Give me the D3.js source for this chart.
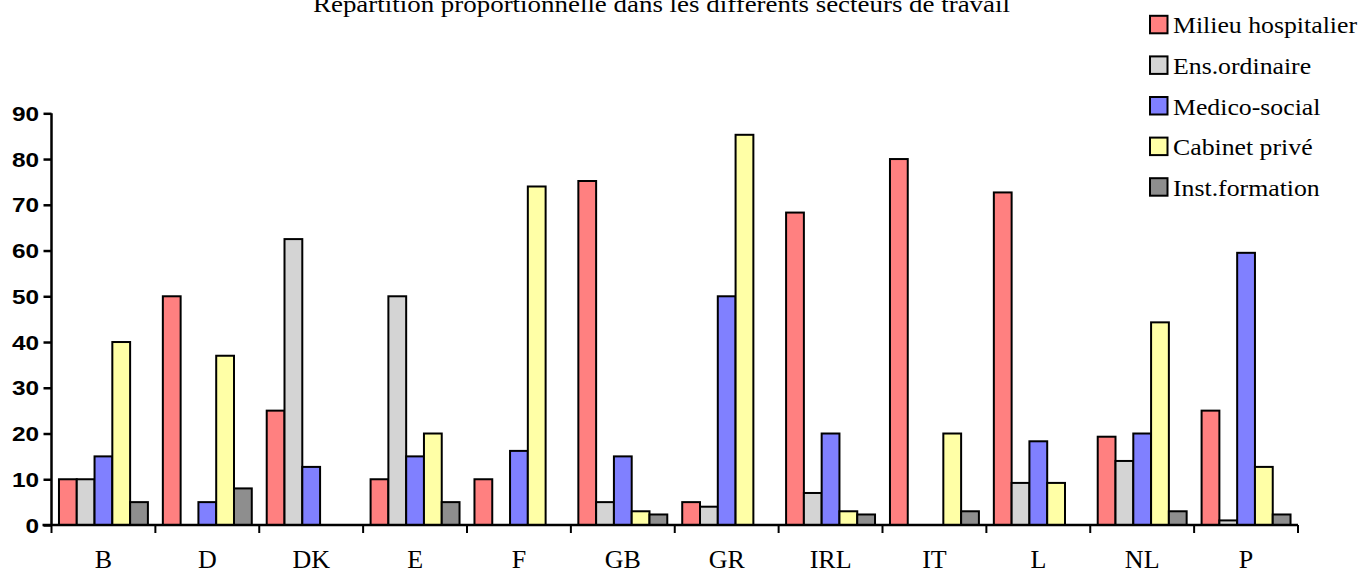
<!DOCTYPE html>
<html><head><meta charset="utf-8">
<script src="https://cdn.jsdelivr.net/npm/d3@7"></script>
<style>body{margin:0;background:#fff}svg{display:block}</style>
</head><body>
<svg id="c" width="1362" height="573"></svg>
<script>
const title = "Répartition proportionnelle dans les différents secteurs de travail";
const categories = ["B","D","DK","E","F","GB","GR","IRL","IT","L","NL","P"];
const seriesNames = ["Milieu hospitalier","Ens.ordinaire","Medico-social","Cabinet privé","Inst.formation"];
const seriesColors = ["#FF8080","#D4D4D4","#8080FF","#FFFFA6","#8E8E8E"];
const milieuHospitalier = [10,50,25,10,10,75.2,5,68.3,80,72.7,19.3,25];
const ensOrdinaire      = [10,0,62.5,50,null,5,4,7,null,9.2,14,1];
const medicoSocial      = [15,5,12.7,15,16.2,15,50,20,null,18.3,20,59.5];
const cabinetPrive      = [40,37,0,20,74,3,85.3,3,20,9.2,44.3,12.7];
const instFormation     = [5,8,null,5,null,2.3,null,2.3,3,null,3,2.3];
const series = [milieuHospitalier, ensOrdinaire, medicoSocial, cabinetPrive, instFormation];
const yTicks = [0,10,20,30,40,50,60,70,80,90];

(function(){
const svg = d3.select("#c");
const pl = 51.5, pr = 1298, pt = 113.3, pb = 525;
const serif = "'Liberation Serif', 'Times New Roman', serif";

const x = d3.scaleBand().domain(categories).range([pl, pr]).paddingInner(0).paddingOuter(0);
const xs = d3.scaleBand().domain(d3.range(seriesNames.length)).range([0, x.bandwidth()]).paddingOuter(0.42).paddingInner(0);
const y = d3.scaleLinear().domain([0,90]).range([pb, pt]);

// bars
const g = svg.append("g");
categories.forEach((c, ci) => {
  series.forEach((s, si) => {
    const v = s[ci];
    if (v === null || v === undefined) return;
    g.append("rect")
      .attr("x", x(c) + xs(si))
      .attr("y", y(v))
      .attr("width", xs.bandwidth())
      .attr("height", pb - y(v))
      .attr("fill", seriesColors[si])
      .attr("stroke", "#000")
      .attr("stroke-width", 2);
  });
});

// y axis
const yAxis = d3.axisLeft(y).tickValues(yTicks).tickSize(8).tickPadding(4).tickFormat(d3.format("d"));
const ya = svg.append("g").attr("transform", `translate(${pl},0)`).call(yAxis);
ya.select(".domain").attr("stroke", "#000").attr("stroke-width", 2.5).attr("d", `M0,${pt}V${pb}`);
ya.selectAll(".tick line").attr("stroke", "#000").attr("stroke-width", 2.5);
ya.selectAll(".tick text")
  .attr("x", null).attr("dy", null)
  .attr("transform", "translate(-12.5,7) scale(1.25,1)")
  .attr("font-family", "'Liberation Sans', Arial, sans-serif")
  .attr("font-weight", "bold").attr("font-size", 19.5).attr("fill", "#000");

// x axis
const xAxis = d3.axisBottom(x).tickSize(0).tickPadding(0);
const xa = svg.append("g").attr("transform", `translate(0,${pb})`).call(xAxis);
xa.select(".domain").attr("stroke", "#000").attr("stroke-width", 2.5).attr("d", `M${pl-9},0H${pr}`);
xa.selectAll(".tick text").attr("y", 42.5).attr("dy", null)
  .attr("font-family", serif).attr("font-size", 26).attr("fill", "#000");
const bounds = categories.map(c => x(c)).concat([pr]);
svg.append("g").selectAll("line").data(bounds).join("line")
  .attr("x1", d => d).attr("x2", d => d).attr("y1", pb).attr("y2", pb + 8)
  .attr("stroke", "#000").attr("stroke-width", 2);

// title
svg.append("text").attr("x", 661.5).attr("y", 12).attr("text-anchor", "middle")
  .attr("font-family", serif).attr("font-size", 24)
  .attr("textLength", 697).attr("lengthAdjust", "spacingAndGlyphs")
  .attr("fill", "#000").text(title);

// legend
const lg = svg.append("g");
seriesNames.forEach((n, i) => {
  const by = 33.3 + i * 40.6;
  lg.append("rect").attr("x", 1150).attr("y", by - 17.5).attr("width", 17.5).attr("height", 17.5)
    .attr("fill", seriesColors[i]).attr("stroke", "#000").attr("stroke-width", 2);
  lg.append("text").attr("transform", `translate(1173,${by}) scale(1.136,1)`)
    .attr("font-family", serif).attr("font-size", 22.7)
    .attr("fill", "#000").text(n);
});
})();
</script>
</body></html>
